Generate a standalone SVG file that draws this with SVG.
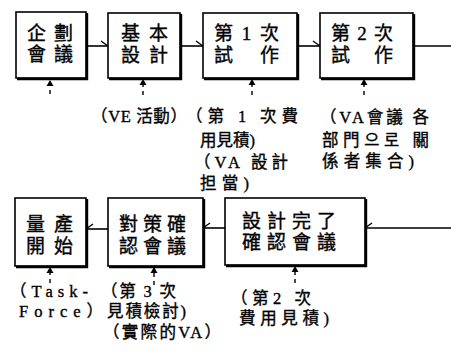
<svg xmlns="http://www.w3.org/2000/svg" width="451" height="356" viewBox="0 0 451 356">
<style>
.box{fill:#fff;stroke:#000;stroke-width:1.6}
.sh{fill:none;stroke:#000;stroke-width:2.4}
.t{font-family:"Liberation Serif","Noto Sans CJK TC","Noto Sans CJK KR",serif;fill:#000;stroke:#000;stroke-width:0.35}
.bt{font-size:19px}
.at{font-size:16.5px}
.c{fill:none;stroke:#000;stroke-width:1.6}
.d{fill:none;stroke:#000;stroke-width:1.4;stroke-dasharray:4 4}
</style>
<defs>
<marker id="barbR" markerWidth="10" markerHeight="10" refX="0" refY="0" viewBox="-8 -6 10 10" orient="auto" markerUnits="userSpaceOnUse">
<path d="M-7,-5 L0,0" fill="none" stroke="#000" stroke-width="1.4"/>
</marker>
<marker id="barbL" markerWidth="10" markerHeight="10" refX="0" refY="0" viewBox="-8 -4 10 10" orient="auto" markerUnits="userSpaceOnUse">
<path d="M-7,5 L0,0" fill="none" stroke="#000" stroke-width="1.4"/>
</marker>
<marker id="tri" markerWidth="8" markerHeight="8" refX="0" refY="0" viewBox="-7 -4 8 8" orient="auto" markerUnits="userSpaceOnUse">
<path d="M-6,-3.5 L0,0 L-6,3.5 Z" fill="#000"/>
</marker>
</defs>

<g id="connectors">
<path class="c" d="M86,46 H108" marker-end="url(#barbR)"/>
<path class="c" d="M180,46 H203" marker-end="url(#barbR)"/>
<path class="c" d="M297,46 H320" marker-end="url(#barbR)"/>
<path class="c" d="M413,46 H451"/>
<path class="c" d="M451,228 H365" marker-end="url(#barbL)"/>
<path class="c" d="M225,228 H203" marker-end="url(#barbL)"/>
<path class="c" d="M108,229 H86" marker-end="url(#barbL)"/>
<path class="d" d="M50,94 V80" marker-end="url(#tri)"/>
<path class="d" d="M143,95 V79" marker-end="url(#tri)"/>
<path class="d" d="M252,95 V79" marker-end="url(#tri)"/>
<path class="d" d="M364,95 V79" marker-end="url(#tri)"/>
<path class="d" d="M50,283 V267" marker-end="url(#tri)"/>
<path class="d" d="M154,285 V267" marker-end="url(#tri)"/>
<path class="d" d="M295,283 V266" marker-end="url(#tri)"/>
</g>

<g id="n1">
<rect class="box" x="16" y="12" width="70" height="66"/>
<path class="sh" d="M17,79 H87 V13"/>
<text class="t bt" x="27" y="40" textLength="46" lengthAdjust="spacing">企劃</text>
<text class="t bt" x="27" y="61" textLength="46" lengthAdjust="spacing">會議</text>
</g>
<g id="n2">
<rect class="box" x="108" y="13" width="72" height="65"/>
<path class="sh" d="M109,79 H181 V14"/>
<text class="t bt" x="121" y="40" textLength="47" lengthAdjust="spacing">基本</text>
<text class="t bt" x="121" y="62" textLength="47" lengthAdjust="spacing">設計</text>
</g>
<g id="n3">
<rect class="box" x="203" y="13" width="94" height="65"/>
<path class="sh" d="M204,79 H298 V14"/>
<text class="t bt" x="214" y="40" textLength="65" lengthAdjust="spacing">第 1 次</text>
<text class="t bt" x="214" y="62" textLength="65" lengthAdjust="spacing">試作</text>
</g>
<g id="n4">
<rect class="box" x="320" y="13" width="93" height="65"/>
<path class="sh" d="M321,79 H414 V14"/>
<text class="t bt" x="331" y="40" textLength="62" lengthAdjust="spacing">第 2 次</text>
<text class="t bt" x="331" y="62" textLength="62" lengthAdjust="spacing">試作</text>
</g>
<g id="n5">
<rect class="box" x="15" y="198" width="71" height="68"/>
<path class="sh" d="M16,267 H87 V199"/>
<text class="t bt" x="26" y="231" textLength="47" lengthAdjust="spacing">量產</text>
<text class="t bt" x="26" y="253" textLength="47" lengthAdjust="spacing">開始</text>
</g>
<g id="n6">
<rect class="box" x="108" y="198" width="95" height="68"/>
<path class="sh" d="M109,267 H204 V199"/>
<text class="t bt" x="119" y="231" textLength="67" lengthAdjust="spacing">對策確</text>
<text class="t bt" x="119" y="253" textLength="67" lengthAdjust="spacing">認會議</text>
</g>
<g id="n7">
<rect class="box" x="225" y="198" width="140" height="67"/>
<path class="sh" d="M226,266 H366 V199"/>
<text class="t bt" x="242" y="228" textLength="94" lengthAdjust="spacing">設計完了</text>
<text class="t bt" x="242" y="249" textLength="94" lengthAdjust="spacing">確認會議</text>
</g>

<g id="labels">
<text class="t at" x="91" y="122" textLength="96" lengthAdjust="spacing">（VE 活動）</text>
<text class="t at" x="186" y="122" textLength="112" lengthAdjust="spacing">（第 1 次費</text>
<text class="t at" x="200" y="146" textLength="55" lengthAdjust="spacing">用見積)</text>
<text class="t at" x="194" y="168" textLength="94" lengthAdjust="spacing">（VA 設計</text>
<text class="t at" x="200" y="189" textLength="49" lengthAdjust="spacing">担當)</text>
<text class="t at" x="320" y="123" textLength="109" lengthAdjust="spacing">（VA會議 各</text>
<text class="t at" x="322" y="146" textLength="107" lengthAdjust="spacing">部門으로 關</text>
<text class="t at" x="322" y="167" textLength="92" lengthAdjust="spacing">係者集合)</text>
<text class="t at" x="10" y="297" textLength="78" lengthAdjust="spacing">（Task-</text>
<text class="t at" x="19" y="317" textLength="84" lengthAdjust="spacing">Force）</text>
<text class="t at" x="101" y="297" textLength="75" lengthAdjust="spacing">（第 3 次</text>
<text class="t at" x="107" y="317" textLength="79" lengthAdjust="spacing">見積檢討)</text>
<text class="t at" x="103" y="338" textLength="118" lengthAdjust="spacing">（實際的VA）</text>
<text class="t at" x="231" y="304" textLength="80" lengthAdjust="spacing">（第2 次</text>
<text class="t at" x="239" y="324" textLength="90" lengthAdjust="spacing">費用見積)</text>
</g>
</svg>
